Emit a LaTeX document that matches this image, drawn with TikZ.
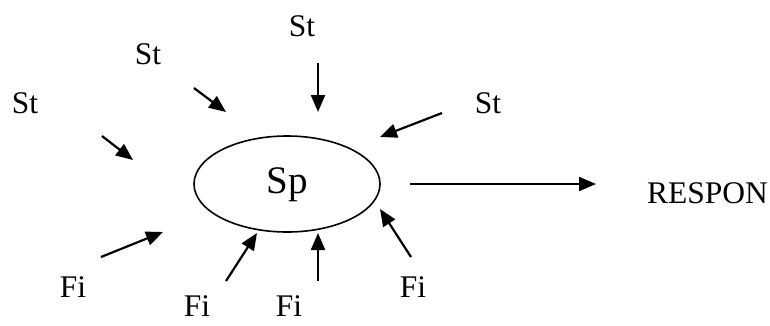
\documentclass[tikz,border=0pt]{standalone}
\usepackage{fontspec}
\setmainfont{Liberation Serif}
\usetikzlibrary{arrows.meta,shapes.geometric}
\begin{document}
\begin{tikzpicture}[x=1pt,y=-1pt,
  lbl/.style={anchor=base,inner sep=0pt,font=\fontsize{31.5}{33}\selectfont},
  arr/.style={line width=2.2pt,-{Triangle[length=17pt,width=14pt]}}]
\useasboundingbox (0,0) rectangle (770,325);
\node[draw,line width=1.6pt,ellipse,minimum width=186pt,minimum height=96pt,inner sep=0pt] (sp) at (287,184) {};
\node[lbl,font=\fontsize{39}{41}\selectfont] (sptext) at (287,193) {Sp};
% labels
\node[lbl] (st1) at (25,113) {St};
\node[lbl] (st2) at (148,64) {St};
\node[lbl] (st3) at (302,36) {St};
\node[lbl] (st4) at (488,113) {St};
\node[lbl] (fi1) at (73,297) {Fi};
\node[lbl] (fi2) at (197,316) {Fi};
\node[lbl] (fi3) at (289,316) {Fi};
\node[lbl] (fi4) at (413,297) {Fi};
\node[lbl,anchor=base west] (resp) at (647,203) {RESPON};
% arrow endpoints
\coordinate (a1s) at (102,136); \coordinate (a1e) at (133,160);
\coordinate (a2s) at (194,88);  \coordinate (a2e) at (226,112);
\coordinate (a3s) at (318,63);  \coordinate (a3e) at (318,112);
\coordinate (a4s) at (442,113); \coordinate (a4e) at (380,137);
\coordinate (rs) at (410,184);  \coordinate (re) at (596,184);
\coordinate (b1s) at (101,257); \coordinate (b1e) at (163,232);
\coordinate (b2s) at (226,281); \coordinate (b2e) at (257,233);
\coordinate (b3s) at (318,281); \coordinate (b3e) at (318,233);
\coordinate (b4s) at (411,257); \coordinate (b4e) at (380,209);
\draw[arr] (a1s) -- (a1e);
\draw[arr] (a2s) -- (a2e);
\draw[arr] (a3s) -- (a3e);
\draw[arr] (a4s) -- (a4e);
\draw[arr] (rs) -- (re);
\draw[arr] (b1s) -- (b1e);
\draw[arr] (b2s) -- (b2e);
\draw[arr] (b3s) -- (b3e);
\draw[arr] (b4s) -- (b4e);
\end{tikzpicture}
\end{document}
